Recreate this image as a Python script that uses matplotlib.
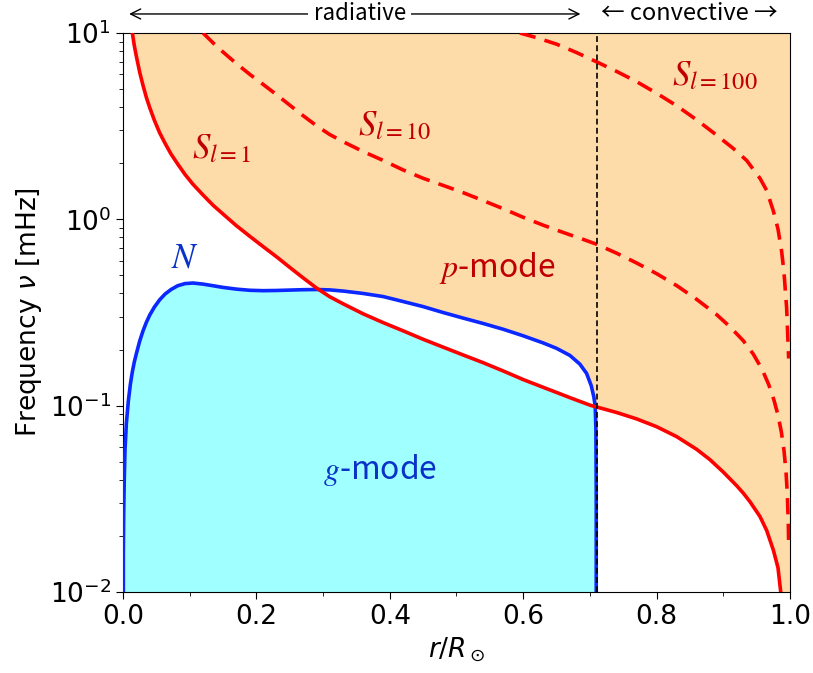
import numpy as np
import matplotlib.pyplot as plt

# radiative zone: N and S_l=1 read at the same radii (mHz)
r_rad = np.array([0.0, 0.0005, 0.001, 0.002, 0.003, 0.005, 0.008, 0.011, 0.014, 0.017,
                  0.02, 0.025, 0.03, 0.035, 0.04, 0.047, 0.055, 0.063, 0.072, 0.082,
                  0.093, 0.105, 0.12, 0.135, 0.15, 0.17, 0.19, 0.21, 0.23, 0.25,
                  0.27, 0.29, 0.31, 0.33, 0.36, 0.39, 0.42, 0.45, 0.48, 0.51,
                  0.54, 0.57, 0.60, 0.63, 0.65, 0.67, 0.685, 0.695, 0.702, 0.706,
                  0.708, 0.709, 0.7095, 0.71])
n_rad = np.array([0.0, 0.016, 0.026, 0.042, 0.058, 0.08, 0.106, 0.13, 0.152, 0.172,
                  0.19, 0.222, 0.252, 0.28, 0.306, 0.338, 0.37, 0.397, 0.42, 0.44,
                  0.452, 0.455, 0.449, 0.44, 0.431, 0.422, 0.416, 0.414, 0.415, 0.417,
                  0.419, 0.42, 0.418, 0.412, 0.40, 0.385, 0.362, 0.34, 0.316, 0.295,
                  0.276, 0.257, 0.237, 0.217, 0.203, 0.186, 0.167, 0.149, 0.128, 0.111,
                  0.099, 0.075, 0.035, 0.0])
s1_rad = np.array([np.nan, np.nan, np.nan, np.nan, np.nan, np.nan, np.nan, np.nan, 10.0, 8.53,
                   7.5, 6.16, 5.23, 4.51, 3.98, 3.40, 2.91, 2.56, 2.24, 1.98,
                   1.74, 1.54, 1.35, 1.19, 1.067, 0.924, 0.811, 0.714, 0.63, 0.552,
                   0.485, 0.428, 0.384, 0.352, 0.311, 0.279, 0.252, 0.227, 0.206, 0.187,
                   0.170, 0.1535, 0.138, 0.1254, 0.1177, 0.1104, 0.1054, 0.1022, 0.1001, 0.0992,
                   0.0987, 0.0986, 0.0985, 0.0984])

# convective zone: S_l=1 only
r_conv = np.array([0.71, 0.74, 0.77, 0.80, 0.83, 0.86, 0.88, 0.90, 0.92, 0.93,
                   0.94, 0.955, 0.965, 0.975, 0.982, 0.988, 0.993, 0.997, 1.0])
s1_conv = np.array([0.0984, 0.0919, 0.0849, 0.0771, 0.0682, 0.0583, 0.0513, 0.0440, 0.0372, 0.0339,
                    0.0305, 0.0254, 0.0214, 0.0168, 0.0135, 0.0087, 0.0045, 0.0013, 0.0005])

r_s10 = np.array([0.12, 0.135, 0.15, 0.17, 0.19, 0.21, 0.23, 0.25, 0.27, 0.29,
                  0.31, 0.33, 0.36, 0.39, 0.42, 0.45, 0.48, 0.51, 0.54, 0.57,
                  0.60, 0.63, 0.66, 0.69, 0.71, 0.74, 0.77, 0.80, 0.83, 0.86,
                  0.89, 0.91, 0.93, 0.945, 0.958, 0.968, 0.976, 0.982, 0.987, 0.991,
                  0.994, 0.996, 0.9975, 0.998])
s10 = np.array([10.0, 8.85, 7.9, 6.85, 6.0, 5.3, 4.67, 4.1, 3.6, 3.18,
                2.85, 2.61, 2.31, 2.07, 1.84, 1.66, 1.52, 1.39, 1.26, 1.14,
                1.025, 0.93, 0.85, 0.78, 0.735, 0.658, 0.583, 0.511, 0.441, 0.372,
                0.308, 0.265, 0.223, 0.189, 0.157, 0.130, 0.107, 0.089, 0.0724, 0.0575,
                0.0443, 0.0336, 0.0229, 0.018])

r_s100 = np.array([0.595, 0.62, 0.65, 0.68, 0.71, 0.74, 0.77, 0.80, 0.83, 0.86,
                   0.885, 0.915, 0.935, 0.955, 0.965, 0.975, 0.982, 0.9875, 0.991, 0.995,
                   0.998])
s100 = np.array([10.0, 9.44, 8.71, 7.85, 7.0, 6.22, 5.48, 4.75, 4.07, 3.42,
                 2.92, 2.40, 2.07, 1.66, 1.43, 1.11, 0.887, 0.671, 0.519, 0.333,
                 0.179])

r_cz = 0.711

orange = '#fddcaa'
cyan = '#a0ffff'
dark_red = '#c00000'
dark_blue = '#0a32c8'
jp = ['Noto Sans CJK JP', 'DejaVu Sans']

fig = plt.figure(figsize=(8.13, 6.73), dpi=100)
ax = fig.add_axes([0.1513, 0.1204, 0.8204, 0.8306])

ax.fill_between(r_rad, 1e-3, np.fmin(n_rad, s1_rad), color=cyan, lw=0, zorder=1)
ax.fill_between(r_rad, np.fmax(n_rad, s1_rad), 20, where=~np.isnan(s1_rad),
                color=orange, lw=0, zorder=1)
ax.fill_between(r_conv, s1_conv, 20, color=orange, lw=0, zorder=1)

ax.plot(r_rad, n_rad, color='#0a28ff', lw=2.6, zorder=3)
ax.plot(np.concatenate([r_rad[8:], r_conv[1:]]), np.concatenate([s1_rad[8:], s1_conv[1:]]),
        color='red', lw=2.6, zorder=4)
ax.plot(r_s10, s10, color='red', lw=2.6, ls=(0, (4.5, 2.6)), zorder=4)
ax.plot(r_s100, s100, color='red', lw=2.6, ls=(0, (4.5, 2.6)), zorder=4)
ax.axvline(r_cz, color='black', lw=1.2, ls=(0, (3.5, 2)), zorder=5)

ax.set_yscale('log')
ax.set_xlim(0, 1)
ax.set_ylim(1e-2, 1e1)
ax.set_xticks([0.0, 0.2, 0.4, 0.6, 0.8, 1.0])
ax.set_xticks(np.arange(0.1, 1.0, 0.2), minor=True)
ax.tick_params(labelsize=19, length=5)
ax.tick_params(which='minor', length=3)
ax.set_xlabel(r'$r/R_\odot$', fontsize=19)
ax.set_ylabel(r'Frequency $\nu$ [mHz]', fontsize=19)

# annotations
ax.text(0.148, 2.42, r'$S_{l=1}$', color=dark_red, fontsize=25, math_fontfamily='stix',
        ha='center', va='center')
ax.text(0.408, 3.2, r'$S_{l=10}$', color=dark_red, fontsize=25, math_fontfamily='stix',
        ha='center', va='center')
ax.text(0.888, 5.96, r'$S_{l=100}$', color=dark_red, fontsize=25, math_fontfamily='stix',
        ha='center', va='center')
ax.text(0.093, 0.62, r'$N$', color=dark_blue, fontsize=25, math_fontfamily='stix',
        ha='center', va='center')
ax.text(0.561, 0.548, r'$p$-mode', color=dark_red, fontsize=23, family=jp,
        math_fontfamily='stix', ha='center', va='center')
ax.text(0.385, 0.045, r'$g$-mode', color=dark_blue, fontsize=23, family=jp,
        math_fontfamily='stix', ha='center', va='center')

# zone labels above the axes
ax.annotate('', xy=(0.005, 1.034), xytext=(0.69, 1.034), xycoords='axes fraction',
            arrowprops=dict(arrowstyle='<->', lw=1.0, color='black', mutation_scale=18))
ax.text(0.355, 1.034, 'radiative', transform=ax.transAxes, ha='center', va='center',
        fontsize=16, family=jp, bbox=dict(facecolor='white', edgecolor='none', pad=4))
ax.text(0.849, 1.034, '← convective →', transform=ax.transAxes, ha='center', va='center',
        fontsize=17, family=jp)

fig.savefig('out.png', dpi=100)
